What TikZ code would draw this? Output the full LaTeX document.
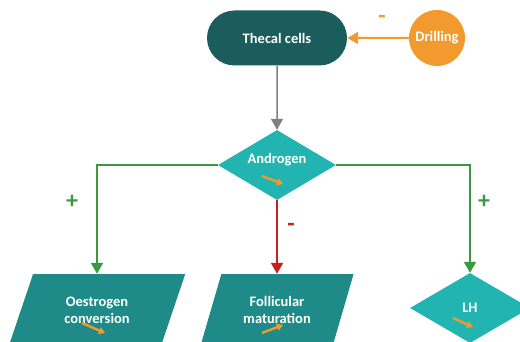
\documentclass[tikz,border=0pt]{standalone}
\usepackage{fontspec}
\setmainfont{Carlito}
\usetikzlibrary{shapes.geometric,shapes.misc,arrows.meta}
\definecolor{darkteal}{HTML}{1B5C5D}
\definecolor{midteal}{HTML}{1E8B89}
\definecolor{lightteal}{HTML}{22B4B1}
\definecolor{orng}{HTML}{F29A2E}
\definecolor{grn}{HTML}{3A9A40}
\definecolor{rd}{HTML}{C8201E}
\begin{document}
\begin{tikzpicture}[x=1pt,y=-1pt,
	every node/.style={font=\bfseries\fontsize{14.5}{17}\selectfont, text=white, inner sep=0pt},
	pill/.style={rounded rectangle, fill=darkteal, minimum width=140pt, minimum height=55pt},
	dot/.style={circle, fill=orng, minimum size=56pt},
	dia/.style={diamond, aspect=1.7, fill=lightteal, minimum width=118pt, minimum height=70pt},
	para/.style={trapezium, trapezium stretches=true, trapezium left angle=65, trapezium right angle=115, fill=midteal, minimum height=72pt, align=center},
	sign/.style={font=\bfseries\fontsize{24}{24}\selectfont},
	link/.style={line width=2pt, -{Triangle[width=12pt,length=11pt]}},
	tiny/.style={orng, line width=2.4pt, -{Triangle[width=7pt,length=6pt]}}]
	\clip (0,0) rectangle (520,342);
	\node[pill] (thecal) at (277,38) {Thecal cells};
	\node[dot] (drill) at (437,38) {Drilling};
	\node[dia, text height=9pt, text depth=12pt] (andr) at (277,165) {Androgen};
	\node[para, minimum width=178pt] (oest) at (97,310) {Oestrogen\\conversion};
	\node[para, minimum width=154pt] (foll) at (277,310) {Follicular\\maturation};
	\node[dia, minimum width=120pt] (lh) at (470,308) {LH};
	\draw[link, orng] (drill) -- (thecal);
	\draw[link, gray, line width=1.5pt] (thecal) -- (andr);
	\draw[link, grn] (andr.west) -| (oest);
	\draw[link, grn] (andr.east) -| (lh);
	\draw[link, rd] (andr) -- (foll);
	\node[sign, text=orng] (minustop) at (382,19) {-};
	\node[sign, text=rd] (minusmid) at (291,227) {-};
	\node[sign, text=grn] (plusleft) at (72,202) {+};
	\node[sign, text=grn] (plusright) at (484,202) {+};
	\draw[tiny] ([shift={(-15,11)}]andr.center) -- ([shift={(6,19)}]andr.center);
	\draw[tiny] ([shift={(-15,13)}]oest.center) -- ([shift={(8,23)}]oest.center);
	\draw[tiny] ([shift={(-15,23)}]foll.center) -- ([shift={(6,15)}]foll.center);
	\draw[tiny] ([shift={(-17,10)}]lh.center) -- ([shift={(3,19)}]lh.center);
\end{tikzpicture}
\end{document}
